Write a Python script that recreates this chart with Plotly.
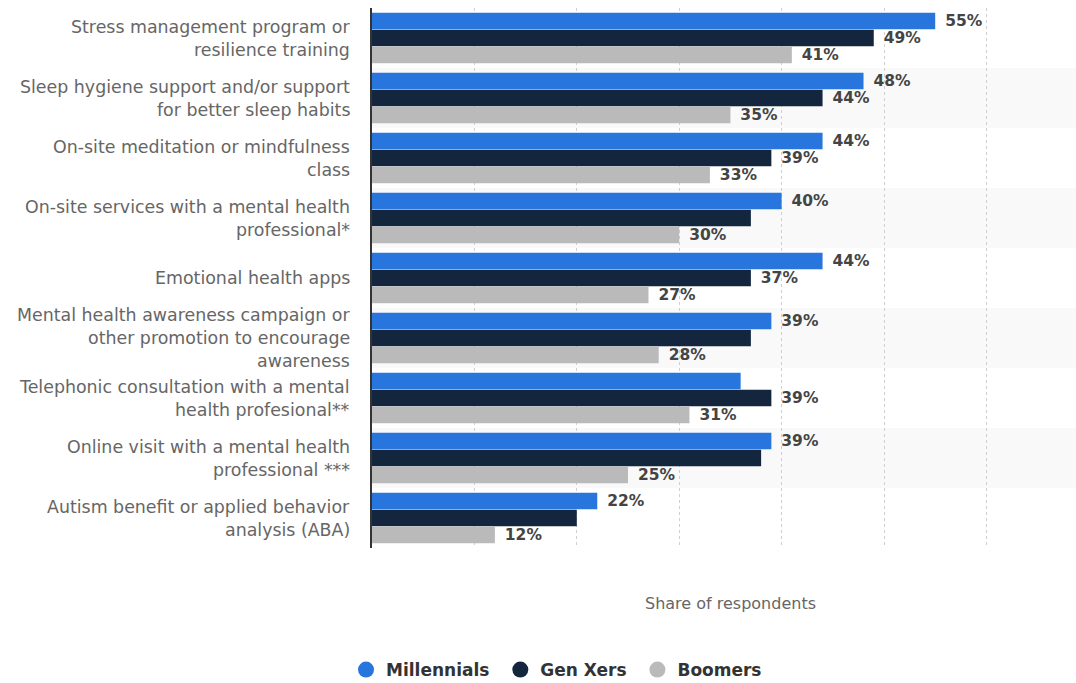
import plotly.graph_objects as go

categories = [
    "Stress management program or<br>resilience training",
    "Sleep hygiene support and/or support<br>for better sleep habits",
    "On-site meditation or mindfulness<br>class",
    "On-site services with a mental health<br>professional*",
    "Emotional health apps",
    "Mental health awareness campaign or<br>other promotion to encourage<br>awareness",
    "Telephonic consultation with a mental<br>health profesional**",
    "Online visit with a mental health<br>professional ***",
    "Autism benefit or applied behavior<br>analysis (ABA)",
]
millennials = [55, 48, 44, 40, 44, 39, 36, 39, 22]
gen_xers = [49, 44, 39, 37, 37, 37, 39, 38, 20]
boomers = [41, 35, 33, 30, 27, 28, 31, 25, 12]
# whether the value label is displayed in the reference
show_m = [1, 1, 1, 1, 1, 1, 0, 1, 1]
show_g = [1, 1, 1, 0, 1, 0, 1, 0, 0]
show_b = [1, 1, 1, 1, 1, 1, 1, 1, 1]
series_names = ["Millennials", "Gen Xers", "Boomers"]
colors = ["#2876dd", "#13263d", "#bababa"]
x_tick_step = 10
x_max = 68.75
axis_title = "Share of respondents"

idx = list(range(len(categories)))

fig = go.Figure()
for name, vals, shows, col in zip(series_names, [millennials, gen_xers, boomers],
                                  [show_m, show_g, show_b], colors):
    fig.add_trace(go.Bar(
        y=idx, x=vals, orientation="h", name=name,
        marker=dict(color=col, line=dict(width=0)),
        text=[f"\u00a0\u200a{v}%" if s else "" for v, s in zip(vals, shows)],
        textposition="outside",
        constraintext="none",
        textfont=dict(family="DejaVu Sans", size=15.5, color="#444444", weight="bold"),
        cliponaxis=False,
        showlegend=False,
        hoverinfo="x+name",
    ))
    fig.add_trace(go.Scatter(
        x=[None], y=[None], mode="markers", name=name + "\u00a0",
        marker=dict(symbol="circle", size=21, color=col),
        showlegend=True,
    ))

# alternating row bands
shapes = []
for i in idx:
    if i % 2 == 1:
        shapes.append(dict(type="rect", xref="paper", yref="y", x0=0, x1=1,
                           y0=i - 0.5, y1=i + 0.5, fillcolor="#f9f9f9",
                           line=dict(width=0), layer="below"))

# category labels, one annotation per line for the line spacing
annotations = []
line_h = 23
for i, cat in zip(idx, categories):
    lines = cat.split("<br>")
    n = len(lines)
    for j, ln in enumerate(lines):
        annotations.append(dict(
            xref="paper", yref="y", x=0, y=i, xanchor="right", yanchor="middle",
            xshift=-20, yshift=((n - 1) / 2 - j) * line_h, text=ln, showarrow=False,
            font=dict(family="DejaVu Sans", size=17.4, color="#666666"),
        ))

# axis title
annotations.append(dict(
    xref="paper", yref="paper", x=0.5, y=0, xanchor="center", yanchor="middle",
    xshift=6, yshift=-55, text=axis_title, showarrow=False,
    font=dict(family="DejaVu Sans", size=16, color="#666666"),
))

fig.update_layout(
    width=1076, height=683,
    margin=dict(l=372, r=0, t=8, b=135),
    paper_bgcolor="white", plot_bgcolor="rgba(0,0,0,0)",
    barmode="group", bargap=0.15, bargroupgap=0.04,
    shapes=shapes, annotations=annotations,
    font=dict(family="DejaVu Sans", color="#666666"),
    legend=dict(orientation="h", xref="container", yref="container",
                x=0.52, xanchor="center", y=0.019, yanchor="middle",
                font=dict(family="DejaVu Sans", size=17, color="#333333", weight="bold"),
                itemsizing="trace"),
    showlegend=True,
)
fig.update_xaxes(range=[0, x_max], dtick=x_tick_step, tick0=0, showticklabels=False,
                 showgrid=True, gridcolor="#cfcfcf", griddash="dot", gridwidth=1,
                 zeroline=False, showline=False, fixedrange=True)
fig.update_yaxes(range=[len(categories) - 0.5, -0.5], showticklabels=False,
                 showgrid=False, zeroline=False, showline=True, linecolor="#333333",
                 linewidth=2, tickmode="array", tickvals=idx, fixedrange=True)

fig.write_html("out.html")
